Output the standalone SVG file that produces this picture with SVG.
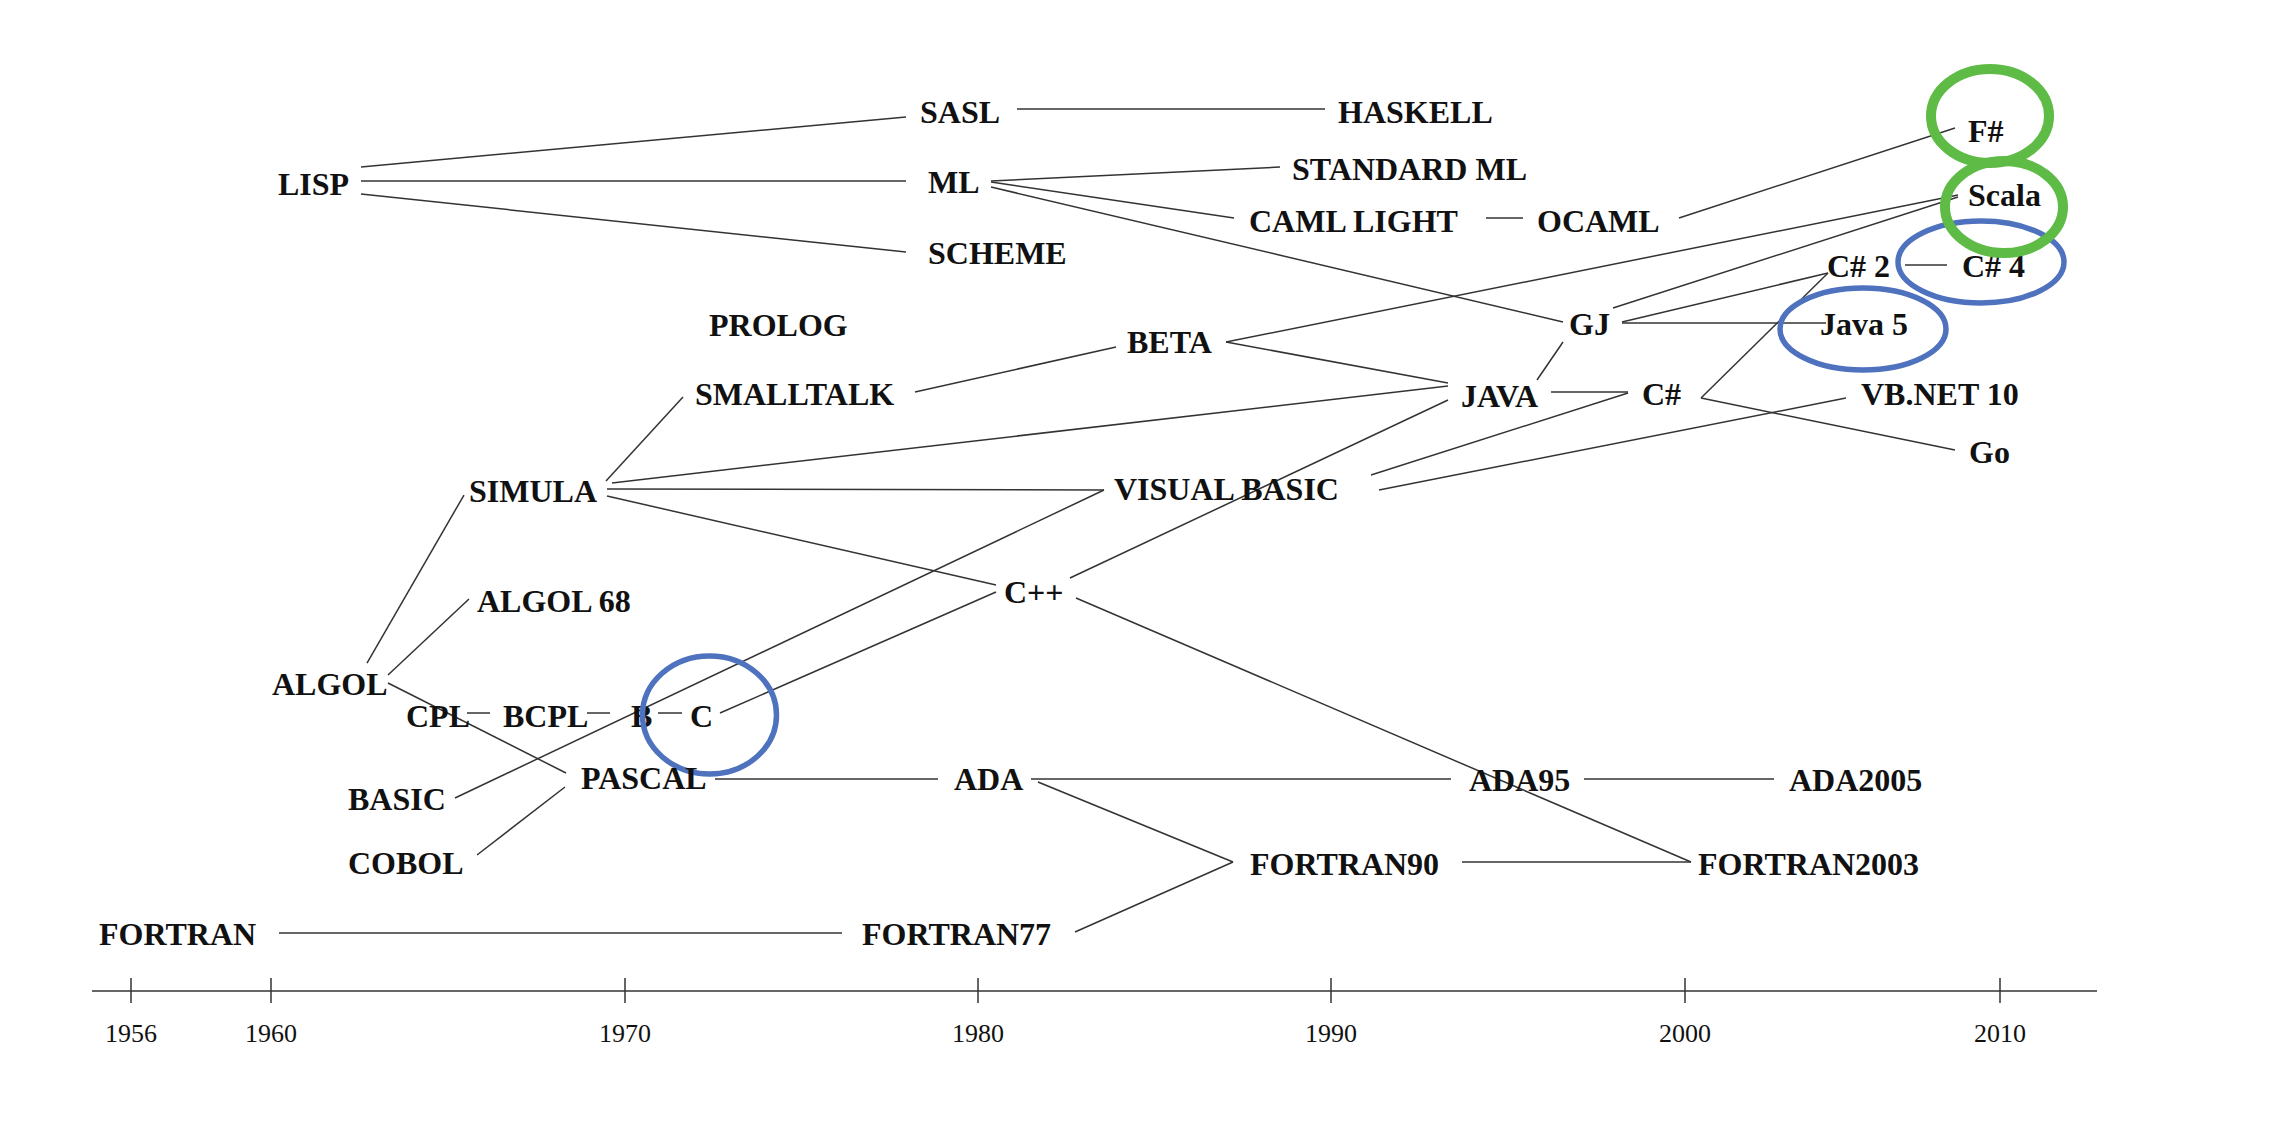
<svg xmlns="http://www.w3.org/2000/svg" width="2288" height="1122" viewBox="0 0 2288 1122">
<style>
.n{font-family:"Liberation Serif","Times New Roman",serif;font-weight:bold;font-size:32px;fill:#111}
.y{font-family:"Liberation Serif","Times New Roman",serif;font-size:26px;fill:#111;text-anchor:middle}
.e line{stroke:#333;stroke-width:1.5;fill:none}
.ax line{stroke:#333;stroke-width:1.5}
.g{fill:none;stroke:#5DBB46;stroke-width:10}
.b{fill:none;stroke:#4F72BF;stroke-width:5.5}
</style>
<rect width="2288" height="1122" fill="#fff"/>
<g id="connectors" class="e">
<line x1="361" y1="167" x2="906" y2="117"/>
<line x1="361" y1="181" x2="906" y2="181"/>
<line x1="361" y1="194" x2="906" y2="252"/>
<line x1="1017" y1="109" x2="1325" y2="109"/>
<line x1="991" y1="181" x2="1280" y2="167"/>
<line x1="991" y1="182" x2="1234" y2="218"/>
<line x1="991" y1="187" x2="1563" y2="322"/>
<line x1="1486" y1="218" x2="1523" y2="218"/>
<line x1="1679" y1="218" x2="1955" y2="128"/>
<line x1="1226" y1="342" x2="1958" y2="195"/>
<line x1="1613" y1="308" x2="1958" y2="197"/>
<line x1="1622" y1="322" x2="1828" y2="273"/>
<line x1="1622" y1="323" x2="1826" y2="323"/>
<line x1="1226" y1="342" x2="1448" y2="383"/>
<line x1="1537" y1="380" x2="1563" y2="342"/>
<line x1="915" y1="392" x2="1116" y2="347"/>
<line x1="606" y1="481" x2="683" y2="397"/>
<line x1="612" y1="483" x2="1448" y2="386"/>
<line x1="607" y1="489" x2="1104" y2="490"/>
<line x1="607" y1="496" x2="996" y2="585"/>
<line x1="1551" y1="392" x2="1628" y2="392"/>
<line x1="1070" y1="578" x2="1448" y2="400"/>
<line x1="1371" y1="475" x2="1628" y2="393"/>
<line x1="1379" y1="490" x2="1846" y2="398"/>
<line x1="1701" y1="398" x2="1828" y2="273"/>
<line x1="1701" y1="398" x2="1955" y2="450"/>
<line x1="1905" y1="265" x2="1947" y2="265"/>
<line x1="367" y1="663" x2="464" y2="495"/>
<line x1="388" y1="675" x2="469" y2="599"/>
<line x1="388" y1="683" x2="566" y2="773"/>
<line x1="467" y1="713" x2="490" y2="713"/>
<line x1="587" y1="713" x2="610" y2="713"/>
<line x1="658" y1="713" x2="682" y2="713"/>
<line x1="720" y1="713" x2="996" y2="592"/>
<line x1="455" y1="798" x2="1104" y2="490"/>
<line x1="477" y1="855" x2="565" y2="787"/>
<line x1="715" y1="779" x2="938" y2="779"/>
<line x1="1031" y1="779" x2="1451" y2="779"/>
<line x1="1584" y1="779" x2="1774" y2="779"/>
<line x1="1038" y1="782" x2="1233" y2="862"/>
<line x1="1076" y1="598" x2="1691" y2="862"/>
<line x1="279" y1="933" x2="842" y2="933"/>
<line x1="1075" y1="932" x2="1233" y2="862"/>
<line x1="1462" y1="862" x2="1691" y2="862"/>
</g>
<g id="nodes">
<g id="n-lisp"><text class="n" x="278" y="195">LISP</text></g>
<g id="n-sasl"><text class="n" x="920" y="123">SASL</text></g>
<g id="n-haskell"><text class="n" x="1338" y="123">HASKELL</text></g>
<g id="n-ml"><text class="n" x="928" y="193">ML</text></g>
<g id="n-standardml"><text class="n" x="1292" y="180">STANDARD ML</text></g>
<g id="n-camllight"><text class="n" x="1249" y="232">CAML LIGHT</text></g>
<g id="n-ocaml"><text class="n" x="1537" y="232">OCAML</text></g>
<g id="n-scheme"><text class="n" x="928" y="264">SCHEME</text></g>
<g id="n-prolog"><text class="n" x="709" y="336">PROLOG</text></g>
<g id="n-beta"><text class="n" x="1127" y="353">BETA</text></g>
<g id="n-gj"><text class="n" x="1569" y="335">GJ</text></g>
<g id="n-smalltalk"><text class="n" x="695" y="405">SMALLTALK</text></g>
<g id="n-java"><text class="n" x="1461" y="407">JAVA</text></g>
<g id="n-csharp"><text class="n" x="1642" y="405">C#</text></g>
<g id="n-csharp2"><text class="n" x="1827" y="277">C# 2</text></g>
<g id="n-csharp4"><ellipse class="b" cx="1981" cy="262" rx="83" ry="41"/><text class="n" x="1962" y="277">C# 4</text></g>
<g id="n-java5"><ellipse class="b" cx="1863" cy="329" rx="83" ry="41"/><text class="n" x="1820" y="335">Java 5</text></g>
<g id="n-fsharp"><ellipse class="g" cx="1990" cy="116" rx="59" ry="47"/><text class="n" x="1968" y="142">F#</text></g>
<g id="n-scala"><ellipse class="g" cx="2004" cy="207" rx="59" ry="46"/><text class="n" x="1968" y="206">Scala</text></g>
<g id="n-vbnet10"><text class="n" x="1861" y="405">VB.NET 10</text></g>
<g id="n-go"><text class="n" x="1969" y="463">Go</text></g>
<g id="n-simula"><text class="n" x="469" y="502">SIMULA</text></g>
<g id="n-visualbasic"><text class="n" x="1114" y="500">VISUAL BASIC</text></g>
<g id="n-algol68"><text class="n" x="477" y="612">ALGOL 68</text></g>
<g id="n-cpp"><text class="n" x="1004" y="603">C++</text></g>
<g id="n-algol"><text class="n" x="272" y="695">ALGOL</text></g>
<g id="n-cpl"><text class="n" x="406" y="727">CPL</text></g>
<g id="n-bcpl"><text class="n" x="503" y="727">BCPL</text></g>
<g id="n-b"><text class="n" x="631" y="727">B</text></g>
<g id="n-c"><ellipse class="b" cx="709.5" cy="715" rx="67" ry="59"/><text class="n" x="690" y="727">C</text></g>
<g id="n-basic"><text class="n" x="348" y="810">BASIC</text></g>
<g id="n-pascal"><text class="n" x="581" y="789">PASCAL</text></g>
<g id="n-cobol"><text class="n" x="348" y="874">COBOL</text></g>
<g id="n-ada"><text class="n" x="954" y="790">ADA</text></g>
<g id="n-ada95"><text class="n" x="1469" y="791">ADA95</text></g>
<g id="n-ada2005"><text class="n" x="1789" y="791">ADA2005</text></g>
<g id="n-fortran90"><text class="n" x="1250" y="875">FORTRAN90</text></g>
<g id="n-fortran2003"><text class="n" x="1698" y="875">FORTRAN2003</text></g>
<g id="n-fortran"><text class="n" x="99" y="945">FORTRAN</text></g>
<g id="n-fortran77"><text class="n" x="862" y="945">FORTRAN77</text></g>
</g>
<g id="axis" class="ax">
<line x1="92" y1="991" x2="2097" y2="991"/>
<line x1="131" y1="978" x2="131" y2="1003"/>
<line x1="271" y1="978" x2="271" y2="1003"/>
<line x1="625" y1="978" x2="625" y2="1003"/>
<line x1="978" y1="978" x2="978" y2="1003"/>
<line x1="1331" y1="978" x2="1331" y2="1003"/>
<line x1="1685" y1="978" x2="1685" y2="1003"/>
<line x1="2000" y1="978" x2="2000" y2="1003"/>
<text class="y" x="131" y="1042">1956</text>
<text class="y" x="271" y="1042">1960</text>
<text class="y" x="625" y="1042">1970</text>
<text class="y" x="978" y="1042">1980</text>
<text class="y" x="1331" y="1042">1990</text>
<text class="y" x="1685" y="1042">2000</text>
<text class="y" x="2000" y="1042">2010</text>
</g>
</svg>
